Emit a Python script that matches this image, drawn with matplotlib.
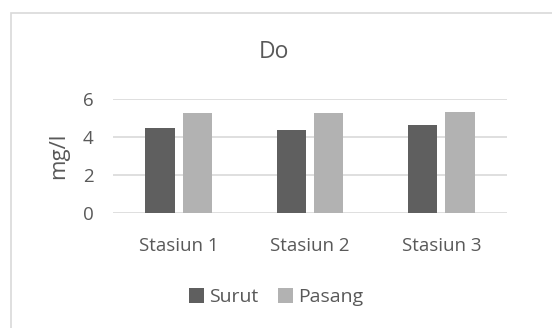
import numpy as np
import matplotlib
matplotlib.use("Agg")
import matplotlib.pyplot as plt
from matplotlib.patches import Rectangle

plt.rcParams['font.family'] = ['Open Sans', 'DejaVu Sans']

stations = ["Stasiun 1", "Stasiun 2", "Stasiun 3"]
surut = [4.47, 4.38, 4.63]
pasang = [5.28, 5.28, 5.33]
yticks = [0, 2, 4, 6]

text_col = "#595959"
grid_col = "#d9d9d9"

fig = plt.figure(figsize=(5.52, 3.28), dpi=100)

# outer chart frame, runs off the right and bottom edges
fig.patches.append(Rectangle((11 / 552, -0.1), 1.1, 1 - 13 / 328 + 0.1,
                             transform=fig.transFigure, fill=False,
                             edgecolor=grid_col, linewidth=1.2))

ax = fig.add_axes([113 / 552, 1 - 213.3 / 328, (507 - 113) / 552, (213.3 - 99.3) / 328])

x = np.arange(len(stations))
w = 0.223
gap = 0.06
ax.bar(x - (w + gap) / 2, surut, w, color="#5f5f5f", label="Surut", zorder=3)
ax.bar(x + (w + gap) / 2, pasang, w, color="#b2b2b2", label="Pasang", zorder=3)

ax.set_xlim(-0.5, 2.5)
ax.set_ylim(0, 6)
ax.set_yticks(yticks)
ax.set_xticks(x)
ax.set_xticklabels(stations)
ax.yaxis.grid(True, color=grid_col, linewidth=1.2, zorder=0)
for s in ax.spines.values():
    s.set_visible(False)
ax.tick_params(length=0, labelsize=13.5, colors=text_col)
ax.tick_params(axis="x", pad=17)
ax.tick_params(axis="y", pad=14)
ax.set_ylabel("mg/l", fontsize=16, color=text_col, labelpad=10)

fig.text(274 / 552, 1 - 52 / 328, "Do", ha="center", va="center",
         fontsize=16.5, color=text_col)

leg = fig.legend(loc="center", bbox_to_anchor=(276 / 552, 1 - 297 / 328),
                 ncol=2, frameon=False, fontsize=14, handlelength=0.8,
                 handleheight=0.8, handletextpad=0.25, columnspacing=1.0)
for t in leg.get_texts():
    t.set_color(text_col)

fig.savefig("out.png", dpi=100)
